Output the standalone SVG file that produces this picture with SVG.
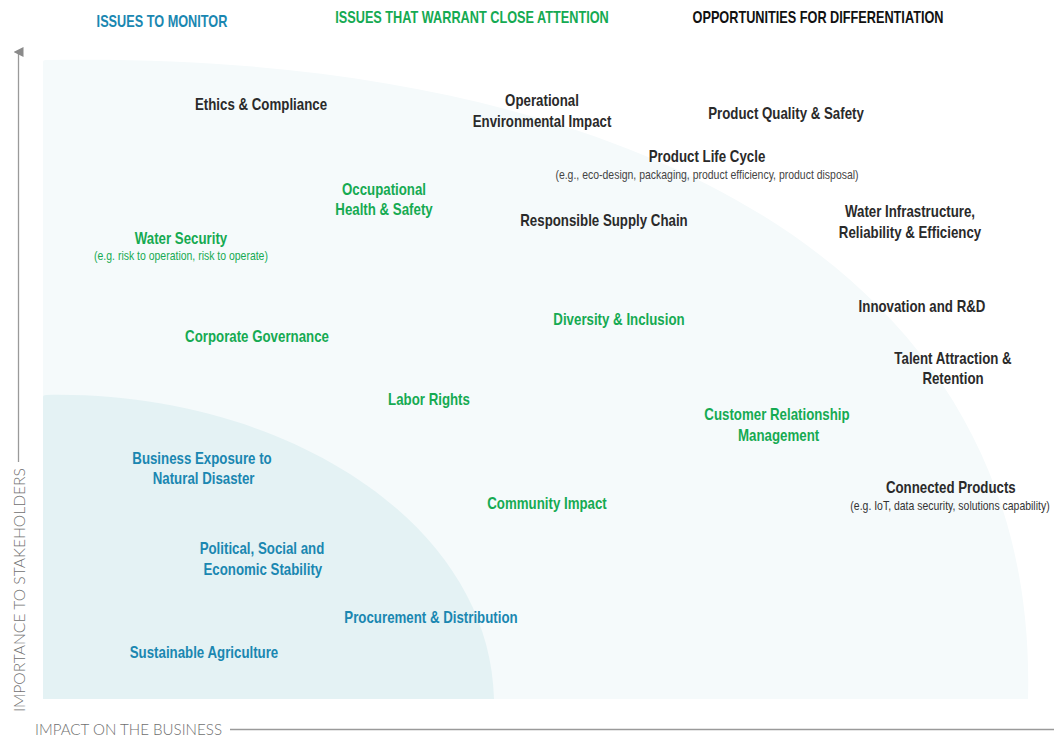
<svg xmlns="http://www.w3.org/2000/svg" width="1054" height="736" viewBox="0 0 1054 736">
  <style>
    .lbl { font-family: "Liberation Sans", Arial, sans-serif; font-weight: bold; font-size: 16.5px; text-anchor: middle; }
    .sub { font-family: "Liberation Sans", Arial, sans-serif; font-size: 13px; text-anchor: middle; }
    .head { font-family: "Liberation Sans", Arial, sans-serif; font-weight: bold; font-size: 16.5px; text-anchor: middle; }
    .dark { fill: #2a2a2a; }
    .green { fill: #15aa52; }
    .blue { fill: #1a87b1; }
    .axis-text { font-family: "Lato", "Liberation Sans", Arial, sans-serif; font-weight: 300; font-size: 15px; fill: #6f6f6f; }
    .axis { stroke: #9a9a9a; stroke-width: 1.3; fill: none; }
  </style>
  <defs>
    <marker id="arrow" markerWidth="10" markerHeight="10" refX="5" refY="5" orient="auto" markerUnits="userSpaceOnUse">
      <path d="M0,10 L5,0 L10,10 Z" fill="#8a8a8a"/>
    </marker>
  </defs>

  <rect width="1054" height="736" fill="#ffffff"/>

  <!-- zones -->
  <g id="zones">
    <path id="zone-outer" d="M43,62 Q43,60 46,60 C600,50 1040,250 1028,699 L43,699 Z" fill="#f5fafb"/>
    <path id="zone-inner" d="M43,397 Q43,395 46,395 C280,390 490,520 494,699 L43,699 Z" fill="#e4f2f4"/>
  </g>

  <!-- axes -->
  <g id="axes">
    <line class="axis" x1="18.5" y1="462" x2="18.5" y2="52" marker-end="url(#arrow)"/>
    <text class="axis-text" transform="translate(25,712) rotate(-90)" textLength="244" lengthAdjust="spacingAndGlyphs">IMPORTANCE TO STAKEHOLDERS</text>
    <text class="axis-text" x="35" y="735" textLength="187" lengthAdjust="spacingAndGlyphs">IMPACT ON THE BUSINESS</text>
    <line class="axis" x1="230" y1="729.5" x2="1054" y2="729.5"/>
  </g>

  <!-- column headings (labels are set in a narrowed face via scale) -->
  <g id="headings">
    <g transform="translate(162 0) scale(0.77 1)"><text class="head blue" x="0" y="27">ISSUES TO MONITOR</text></g>
    <g transform="translate(472 0) scale(0.77 1)"><text class="head green" x="0" y="23">ISSUES THAT WARRANT CLOSE ATTENTION</text></g>
    <g transform="translate(818 0) scale(0.77 1)"><text class="head" fill="#111" x="0" y="23">OPPORTUNITIES FOR DIFFERENTIATION</text></g>
  </g>

  <!-- topics -->
  <g id="ethics-compliance" transform="translate(261 0) scale(0.805 1)"><text class="lbl dark" x="0" y="110">Ethics &amp; Compliance</text></g>
  <g id="operational-env-impact" transform="translate(542 0) scale(0.805 1)">
    <text class="lbl dark" x="0" y="106">Operational</text>
    <text class="lbl dark" x="0" y="127">Environmental Impact</text>
  </g>
  <g id="product-quality-safety" transform="translate(786 0) scale(0.805 1)"><text class="lbl dark" x="0" y="119">Product Quality &amp; Safety</text></g>
  <g id="product-life-cycle" transform="translate(707 0) scale(0.805 1)">
    <text class="lbl dark" x="0" y="162">Product Life Cycle</text>
    <text class="sub" fill="#444" x="0" y="179">(e.g., eco-design, packaging, product efficiency, product disposal)</text>
  </g>
  <g id="occupational-health-safety" transform="translate(384 0) scale(0.805 1)">
    <text class="lbl green" x="0" y="195">Occupational</text>
    <text class="lbl green" x="0" y="215">Health &amp; Safety</text>
  </g>
  <g id="responsible-supply-chain" transform="translate(604 0) scale(0.805 1)"><text class="lbl dark" x="0" y="226">Responsible Supply Chain</text></g>
  <g id="water-infrastructure" transform="translate(910 0) scale(0.805 1)">
    <text class="lbl dark" x="0" y="217">Water Infrastructure,</text>
    <text class="lbl dark" x="0" y="238">Reliability &amp; Efficiency</text>
  </g>
  <g id="water-security" transform="translate(181 0) scale(0.805 1)">
    <text class="lbl green" x="0" y="244">Water Security</text>
    <text class="sub green" x="0" y="260">(e.g. risk to operation, risk to operate)</text>
  </g>
  <g id="innovation-rd" transform="translate(922 0) scale(0.805 1)"><text class="lbl dark" x="0" y="312">Innovation and R&amp;D</text></g>
  <g id="diversity-inclusion" transform="translate(619 0) scale(0.805 1)"><text class="lbl green" x="0" y="325">Diversity &amp; Inclusion</text></g>
  <g id="corporate-governance" transform="translate(257 0) scale(0.805 1)"><text class="lbl green" x="0" y="342">Corporate Governance</text></g>
  <g id="talent-attraction" transform="translate(953 0) scale(0.805 1)">
    <text class="lbl dark" x="0" y="364">Talent Attraction &amp;</text>
    <text class="lbl dark" x="0" y="384">Retention</text>
  </g>
  <g id="labor-rights" transform="translate(429 0) scale(0.805 1)"><text class="lbl green" x="0" y="405">Labor Rights</text></g>
  <g id="customer-relationship" transform="translate(777 0) scale(0.805 1)">
    <text class="lbl green" x="0" y="420">Customer Relationship</text>
    <text class="lbl green" x="2" y="441">Management</text>
  </g>
  <g id="business-exposure" transform="translate(202 0) scale(0.805 1)">
    <text class="lbl blue" x="0" y="464">Business Exposure to</text>
    <text class="lbl blue" x="2" y="484">Natural Disaster</text>
  </g>
  <g id="connected-products" transform="translate(950 0) scale(0.805 1)">
    <text class="lbl dark" x="1" y="493">Connected Products</text>
    <text class="sub" fill="#333" x="0" y="510">(e.g. IoT, data security, solutions capability)</text>
  </g>
  <g id="community-impact" transform="translate(547 0) scale(0.805 1)"><text class="lbl green" x="0" y="509">Community Impact</text></g>
  <g id="political-social-economic" transform="translate(262 0) scale(0.805 1)">
    <text class="lbl blue" x="0" y="554">Political, Social and</text>
    <text class="lbl blue" x="1" y="575">Economic Stability</text>
  </g>
  <g id="procurement-distribution" transform="translate(431 0) scale(0.805 1)"><text class="lbl blue" x="0" y="623">Procurement &amp; Distribution</text></g>
  <g id="sustainable-agriculture" transform="translate(204 0) scale(0.805 1)"><text class="lbl blue" x="0" y="658">Sustainable Agriculture</text></g>
</svg>
